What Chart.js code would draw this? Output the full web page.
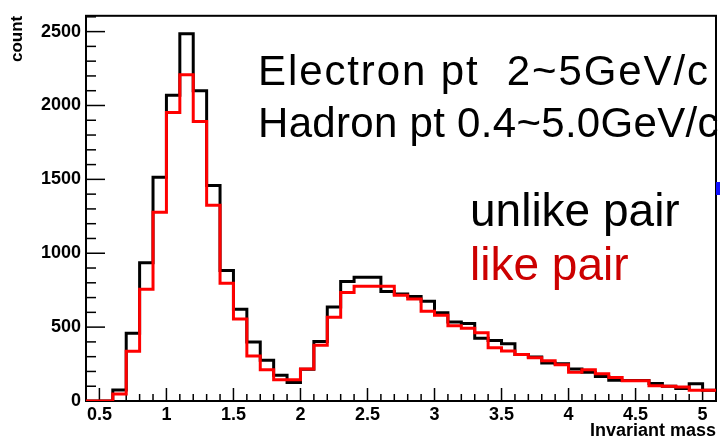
<!DOCTYPE html>
<html>
<head>
<meta charset="utf-8">
<script src="https://cdn.jsdelivr.net/npm/chart.js@4.4.1/dist/chart.umd.min.js"></script>
<style>
  body { margin: 0; background: #fff; }
  .wrap { position: relative; width: 720px; height: 442px; overflow: hidden; }
  .note { position: absolute; font-family: "Liberation Sans", Arial, sans-serif; white-space: pre; line-height: 1; }
  .blue-mark { position: absolute; left: 716px; top: 182px; width: 4px; height: 13px; background: #1010ff; }
</style>
</head>
<body>
<div class="wrap">
  <canvas id="myChart" width="720" height="442"></canvas>
  <div class="note" style="left:258px; top:50px; font-size:42px; color:#000; letter-spacing:1.9px;">Electron pt  2~5GeV/c</div>
  <div class="note" style="left:258px; top:102px; font-size:42px; color:#000; letter-spacing:0.3px;">Hadron pt 0.4~5.0GeV/c</div>
  <div class="note" style="left:470px; top:187px; font-size:46px; color:#000;">unlike pair</div>
  <div class="note" style="left:470px; top:241px; font-size:46px; color:#cc0000;">like pair</div>
  <div class="blue-mark"></div>
</div>
<script>
// histogram bin edges (GeV), 47 bins of 0.1
const binEdges = [0.4, 0.5, 0.6, 0.7, 0.8, 0.9, 1.0, 1.1, 1.2, 1.3, 1.4, 1.5, 1.6, 1.7, 1.8, 1.9,
  2.0, 2.1, 2.2, 2.3, 2.4, 2.5, 2.6, 2.7, 2.8, 2.9, 3.0, 3.1, 3.2, 3.3, 3.4, 3.5, 3.6, 3.7, 3.8, 3.9,
  4.0, 4.1, 4.2, 4.3, 4.4, 4.5, 4.6, 4.7, 4.8, 4.9, 5.0, 5.1];

// counts per bin
const unlikePair = [0, 0, 75, 459, 935, 1515, 2070, 2485, 2100, 1459, 883, 621, 399, 275, 175, 125,
  215, 403, 637, 808, 837, 837, 741, 725, 708, 675, 597, 535, 525, 425, 410, 388, 315, 297, 258, 252,
  217, 195, 165, 140, 139, 139, 119, 100, 85, 117, 73];
const likePair = [0, 0, 48, 337, 757, 1277, 1952, 2208, 1892, 1325, 797, 555, 305, 212, 143, 143,
  217, 377, 566, 735, 777, 777, 777, 715, 690, 608, 581, 510, 492, 462, 361, 339, 315, 292, 272, 245,
  195, 212, 185, 159, 137, 137, 104, 100, 95, 72, 72];

const xTicks = [0.5, 1, 1.5, 2, 2.5, 3, 3.5, 4, 4.5, 5];
const yTicks = [0, 500, 1000, 1500, 2000, 2500];

const FONT = '"Liberation Sans", Arial, sans-serif';

// step points: left edge of each bin, plus closing point at last edge
function toSteps(values) {
  return binEdges.map((x, i) => ({ x: x, y: values[Math.min(i, values.length - 1)] }));
}

// ROOT-like frame with inward ticks
const frameTicks = {
  id: "frameTicks",
  beforeDatasetsDraw(chart) {
    const { ctx, chartArea: a, scales } = chart;
    const xs = scales.x;
    const ys = scales.y;
    ctx.save();
    ctx.strokeStyle = "#000";
    ctx.lineWidth = 1.5;

    // x ticks
    for (let k = 5; k <= 51; k++) {
      const v = k / 10;
      const px = xs.getPixelForValue(v);
      const len = k % 5 === 0 ? 13 : 7;
      ctx.beginPath();
      ctx.moveTo(px, a.bottom);
      ctx.lineTo(px, a.bottom - len);
      ctx.stroke();
    }
    // y ticks
    for (let v = 100; v <= 2600; v += 100) {
      const py = ys.getPixelForValue(v);
      const len = v % 500 === 0 ? 19 : 10;
      ctx.beginPath();
      ctx.moveTo(a.left, py);
      ctx.lineTo(a.left + len, py);
      ctx.stroke();
    }

    ctx.lineWidth = 2;
    ctx.strokeRect(a.left, a.top, a.right - a.left, a.bottom - a.top);
    ctx.restore();
  },
};

const ctx = document.getElementById("myChart");

const chart = new Chart(ctx, {
  type: "line",
  data: {
    datasets: [
      {
        label: "like pair",
        data: toSteps(likePair),
        borderColor: "#ff0000",
        borderWidth: 3,
        stepped: true,
        fill: false,
        pointRadius: 0,
        order: 1,
      },
      {
        label: "unlike pair",
        data: toSteps(unlikePair),
        borderColor: "#000000",
        borderWidth: 3,
        stepped: true,
        fill: false,
        pointRadius: 0,
        order: 2,
      },
    ],
  },
  options: {
    responsive: false,
    animation: false,
    layout: { padding: { top: 10, right: 4, left: 0, bottom: 0 } },
    plugins: {
      legend: { display: false },
      tooltip: { enabled: false },
    },
    scales: {
      x: {
        type: "linear",
        min: 0.4,
        max: 5.1,
        afterBuildTicks: (s) => {
          s.ticks = xTicks.map((v) => ({ value: v }));
        },
        afterFit: (s) => {
          s.height = 41;
        },
        grid: { display: false, drawTicks: false },
        border: { display: false },
        ticks: {
          autoSkip: false,
          maxRotation: 0,
          padding: 3,
          color: "#000",
          font: { family: FONT, size: 18, weight: "bold" },
          callback: (v) => String(v),
        },
        title: {
          display: true,
          text: "Invariant mass",
          align: "end",
          color: "#000",
          padding: 0,
          font: { family: FONT, size: 18, weight: "bold" },
        },
      },
      y: {
        min: 0,
        max: 2607,
        afterBuildTicks: (s) => {
          s.ticks = yTicks.map((v) => ({ value: v }));
        },
        afterFit: (s) => {
          s.width = 86;
        },
        grid: { display: false, drawTicks: false },
        border: { display: false },
        ticks: {
          padding: 5,
          color: "#000",
          font: { family: FONT, size: 18, weight: "bold" },
          callback: (v) => String(v),
        },
        title: {
          display: true,
          text: "count",
          align: "end",
          color: "#000",
          padding: { top: 7, bottom: 0 },
          font: { family: FONT, size: 17, weight: "bold" },
        },
      },
    },
  },
  plugins: [frameTicks],
});
</script>
</body>
</html>
